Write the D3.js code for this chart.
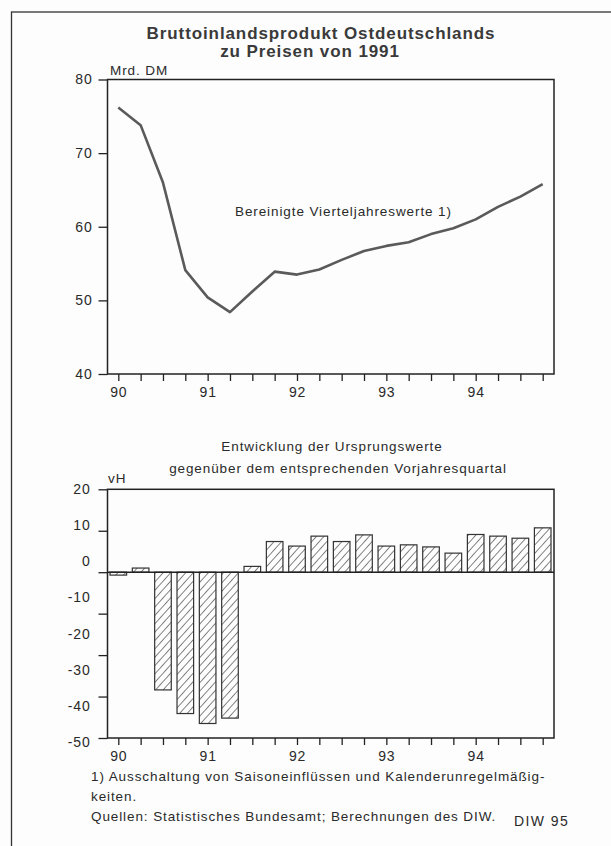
<!DOCTYPE html>
<head>
    <meta charset="utf-8">
    <script src="https://d3js.org/d3.v7.min.js"></script>
    <style>
        body {
            margin: 0;
            background: #fdfdfd;
            font-family: "Liberation Sans", Arial, sans-serif;
        }

        text {
            fill: #2a2a2a;
            font-family: "Liberation Sans", Arial, sans-serif;
        }

        .title {
            font-size: 17px;
            font-weight: bold;
            letter-spacing: 0.9px;
            fill: #3a3a3a;
        }

        .small {
            font-size: 13.5px;
            letter-spacing: 0.9px;
        }

        .axis text {
            font-size: 14px;
            letter-spacing: 0.8px;
            fill: #2a2a2a;
        }

        .axis line, .axis path {
            stroke: #222;
            stroke-width: 1.3px;
        }

        .frame {
            fill: none;
            stroke: #333;
            stroke-width: 1.3px;
        }

        .box {
            fill: none;
            stroke: #222;
            stroke-width: 1.5px;
        }

        .bip-line {
            fill: none;
            stroke: #5a5a5a;
            stroke-width: 2.6px;
            stroke-linejoin: round;
        }

        .bar {
            fill: url(#hatch);
            stroke: #333;
            stroke-width: 1.2px;
        }
    </style>
</head>

<body>
<script>
    // Quartale 1990 I bis 1994 IV
    var quarters = d3.range(20);
    var yearLabels = ["90", "91", "92", "93", "94"];

    // Bereinigte Vierteljahreswerte, Mrd. DM
    var bipValues = [76.2, 73.8, 66.0, 54.1, 50.4, 48.4, 51.2, 53.9, 53.5, 54.2,
                     55.5, 56.7, 57.4, 57.9, 59.0, 59.8, 61.0, 62.7, 64.1, 65.8];
    var bipTicks = [40, 50, 60, 70, 80];

    // Veraenderung gegenueber Vorjahresquartal, vH
    var changeValues = [-0.7, 1.0, -28.4, -34.1, -36.5, -35.2, 1.4, 7.4, 6.3, 8.7,
                        7.4, 9.0, 6.3, 6.6, 6.1, 4.6, 9.1, 8.7, 8.2, 10.7];
    var changeTicks = [20, 10, 0, -10, -20, -30, -40];
    var changeLabels = ["20", "10", "0", "-10", "-20", "-30", "-40", "-50"];

    var W = 611, H = 846;

    var svg = d3.select("body").append("svg")
        .attr("width", W)
        .attr("height", H);

    var defs = svg.append("defs");
    var pattern = defs.append("pattern")
        .attr("id", "hatch")
        .attr("patternUnits", "userSpaceOnUse")
        .attr("width", 5.6)
        .attr("height", 5.6)
        .attr("patternTransform", "rotate(42)");
    pattern.append("rect")
        .attr("width", 5.6).attr("height", 5.6)
        .attr("fill", "#fdfdfd");
    pattern.append("line")
        .attr("x1", 0).attr("y1", 0)
        .attr("x2", 0).attr("y2", 5.6)
        .attr("stroke", "#333")
        .attr("stroke-width", 1.2);

    // outer frame (cut off at right and bottom)
    svg.append("rect")
        .attr("class", "frame")
        .attr("x", 11.5)
        .attr("y", 12)
        .attr("width", 640)
        .attr("height", 860);

    var plotLeft = 107.5, plotRight = 554;

    var x = d3.scaleLinear()
        .domain([0, 19])
        .range([118.3, 542.7]);

    // ---------- top chart ----------
    var top1 = 79.5, bottom1 = 374;

    var y1 = d3.scaleLinear()
        .domain([40, 80])
        .range([bottom1, top1]);

    svg.append("text")
        .attr("class", "title")
        .attr("x", 321).attr("y", 39)
        .attr("text-anchor", "middle")
        .text("Bruttoinlandsprodukt Ostdeutschlands");

    svg.append("text")
        .attr("class", "title")
        .attr("x", 310).attr("y", 57)
        .attr("text-anchor", "middle")
        .text("zu Preisen von 1991");

    svg.append("text")
        .attr("class", "small")
        .attr("x", 110).attr("y", 75)
        .text("Mrd. DM");

    svg.append("g")
        .attr("class", "axis")
        .attr("transform", "translate(" + plotLeft + ",0)")
        .call(d3.axisLeft(y1).tickValues(bipTicks).tickSize(9).tickPadding(6))
        .select(".domain").remove();

    var xAxis = d3.axisBottom(x)
        .tickValues(quarters)
        .tickSize(7)
        .tickPadding(6)
        .tickFormat(function(d) {
            return d % 4 == 0 ? yearLabels[d / 4] : "";
        });

    svg.append("g")
        .attr("class", "axis")
        .attr("transform", "translate(0," + bottom1 + ")")
        .call(xAxis)
        .select(".domain").remove();

    svg.append("rect")
        .attr("class", "box")
        .attr("x", plotLeft).attr("y", top1)
        .attr("width", plotRight - plotLeft)
        .attr("height", bottom1 - top1);

    var line = d3.line()
        .x(function(d, i) { return x(i); })
        .y(function(d) { return y1(d); });

    svg.append("path")
        .datum(bipValues)
        .attr("class", "bip-line")
        .attr("d", line);

    svg.append("text")
        .attr("class", "small")
        .attr("x", 235).attr("y", 216)
        .text("Bereinigte Vierteljahreswerte 1)");

    // ---------- bottom chart ----------
    var top2 = 489.3, bottom2 = 738;

    var y2 = d3.scaleLinear()
        .domain([-40, 20])
        .range([bottom2, top2]);

    // printed labels are spaced on their own in the original
    var yLabel2 = d3.scalePoint()
        .domain(changeLabels)
        .range([489, 742]);

    svg.append("text")
        .attr("class", "small")
        .attr("x", 332).attr("y", 451)
        .attr("text-anchor", "middle")
        .text("Entwicklung der Ursprungswerte");

    svg.append("text")
        .attr("class", "small")
        .attr("x", 338).attr("y", 473)
        .attr("text-anchor", "middle")
        .text("gegenüber dem entsprechenden Vorjahresquartal");

    svg.append("text")
        .attr("class", "small")
        .attr("x", 108).attr("y", 483)
        .text("vH");

    svg.append("g")
        .attr("class", "axis")
        .attr("transform", "translate(" + plotLeft + ",0)")
        .call(d3.axisLeft(y2).tickValues(changeTicks).tickSize(9).tickFormat(""))
        .select(".domain").remove();

    svg.append("g")
        .attr("class", "axis")
        .attr("transform", "translate(" + plotLeft + ",0)")
        .call(d3.axisLeft(yLabel2).tickSize(0).tickPadding(17))
        .select(".domain").remove();

    svg.append("g")
        .attr("class", "axis")
        .attr("transform", "translate(0," + bottom2 + ")")
        .call(xAxis)
        .select(".domain").remove();

    var barW = 16.6;

    svg.append("g")
        .selectAll("rect")
        .data(changeValues)
        .enter().append("rect")
        .attr("class", "bar")
        .attr("x", function(d, i) { return x(i) - barW / 2; })
        .attr("width", barW)
        .attr("y", function(d) { return y2(Math.max(0, d)); })
        .attr("height", function(d) { return Math.abs(y2(d) - y2(0)); });

    svg.append("line")
        .attr("x1", plotLeft).attr("x2", plotRight)
        .attr("y1", y2(0)).attr("y2", y2(0))
        .attr("stroke", "#222")
        .attr("stroke-width", 1.4);

    svg.append("rect")
        .attr("class", "box")
        .attr("x", plotLeft).attr("y", top2)
        .attr("width", plotRight - plotLeft)
        .attr("height", bottom2 - top2);

    // ---------- notes ----------
    svg.append("text")
        .attr("class", "small")
        .attr("x", 91).attr("y", 781)
        .text("1) Ausschaltung von Saisoneinflüssen und Kalenderunregelmäßig-");

    svg.append("text")
        .attr("class", "small")
        .attr("x", 91).attr("y", 801)
        .text("keiten.");

    svg.append("text")
        .attr("class", "small")
        .attr("x", 91).attr("y", 821)
        .text("Quellen: Statistisches Bundesamt; Berechnungen des DIW.");

    svg.append("text")
        .attr("class", "small")
        .attr("x", 514).attr("y", 826)
        .style("font-size", "14px")
        .style("letter-spacing", "1.4px")
        .text("DIW 95");
</script>
</body>
</html>
